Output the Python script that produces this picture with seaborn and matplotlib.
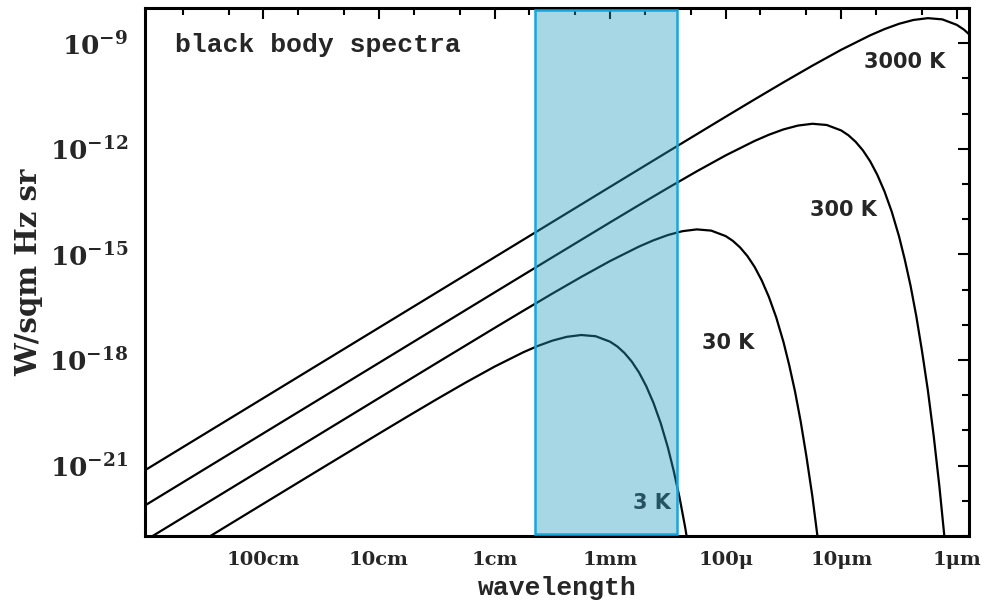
import numpy as np
import pandas as pd
import matplotlib
matplotlib.use("Agg")
import matplotlib.pyplot as plt
import matplotlib.ticker as mticker
import seaborn as sns

# ---- data (wavelength in m, brightness in W/m^2 Hz sr) ----
lam_3K = [3.162, 1.0, 0.3162, 0.1, 0.05623, 0.03162, 0.01778, 0.01, 5.623e-3, 4.217e-3,
          3.162e-3, 2.371e-3, 1.778e-3, 1.334e-3, 1.0e-3, 8.66e-4, 7.50e-4, 6.49e-4,
          5.62e-4, 4.87e-4, 4.22e-4, 3.65e-4, 3.16e-4, 2.82e-4, 2.51e-4, 2.24e-4, 2.00e-4]
B_3K = [8.26e-24, 8.26e-23, 8.22e-22, 8.09e-21, 2.51e-20, 7.67e-20, 2.28e-19, 6.46e-19, 1.66e-18, 2.50e-18,
        3.53e-18, 4.54e-18, 5.11e-18, 4.72e-18, 3.30e-18, 2.41e-18, 1.57e-18, 8.97e-19,
        4.41e-19, 1.81e-19, 6.10e-20, 1.61e-20, 3.24e-21, 7.19e-22, 1.27e-22, 1.75e-23, 1.81e-24]

lam_30K = [31.62, 10.0, 3.162, 0.3162, 0.1, 0.03162, 0.01, 5.623e-3, 3.162e-3, 1.778e-3, 1.0e-3,
           5.623e-4, 4.217e-4, 3.162e-4, 2.371e-4, 1.778e-4, 1.334e-4, 1.0e-4, 8.66e-5, 7.50e-5,
           6.49e-5, 5.62e-5, 4.87e-5, 4.22e-5, 3.65e-5, 3.16e-5, 2.82e-5, 2.51e-5, 2.24e-5,
           2.00e-5, 1.778e-5, 1.585e-5]
B_30K = [8.26e-25, 8.26e-24, 8.26e-23, 8.26e-21, 8.26e-20, 8.22e-19, 8.09e-18, 2.51e-17, 7.67e-17, 2.28e-16, 6.46e-16,
         1.66e-15, 2.50e-15, 3.53e-15, 4.54e-15, 5.11e-15, 4.72e-15, 3.30e-15, 2.41e-15, 1.57e-15,
         8.97e-16, 4.41e-16, 1.81e-16, 6.10e-17, 1.61e-17, 3.24e-18, 7.19e-19, 1.27e-19, 1.75e-20,
         1.81e-21, 1.36e-22, 7.13e-24]

lam_300K = [31.62, 10.0, 1.0, 0.1, 0.03162, 0.01, 3.162e-3, 1.0e-3, 5.623e-4, 3.162e-4, 1.778e-4,
            1.0e-4, 5.623e-5, 4.217e-5, 3.162e-5, 2.371e-5, 1.778e-5, 1.334e-5, 1.0e-5, 8.66e-6,
            7.50e-6, 6.49e-6, 5.62e-6, 4.87e-6, 4.22e-6, 3.65e-6, 3.16e-6, 2.82e-6, 2.51e-6,
            2.24e-6, 2.00e-6, 1.778e-6, 1.585e-6, 1.413e-6, 1.259e-6]
B_300K = [8.26e-24, 8.26e-23, 8.26e-21, 8.26e-19, 8.26e-18, 8.26e-17, 8.22e-16, 8.09e-15, 2.51e-14, 7.67e-14, 2.28e-13,
          6.46e-13, 1.66e-12, 2.50e-12, 3.53e-12, 4.54e-12, 5.11e-12, 4.72e-12, 3.30e-12, 2.41e-12,
          1.57e-12, 8.97e-13, 4.41e-13, 1.81e-13, 6.10e-14, 1.61e-14, 3.24e-15, 7.19e-16, 1.27e-16,
          1.75e-17, 1.81e-18, 1.36e-19, 7.13e-21, 2.51e-22, 5.60e-24]

lam_3000K = [31.62, 10.0, 1.0, 0.1, 0.01, 3.162e-3, 1.0e-3, 3.162e-4, 1.0e-4, 5.623e-5, 3.162e-5,
             1.778e-5, 1.0e-5, 5.623e-6, 4.217e-6, 3.162e-6, 2.371e-6, 1.778e-6, 1.334e-6, 1.0e-6,
             8.66e-7, 7.50e-7, 6.49e-7]
B_3000K = [8.26e-23, 8.26e-22, 8.26e-20, 8.26e-18, 8.26e-16, 8.26e-15, 8.26e-14, 8.22e-13, 8.09e-12, 2.51e-11, 7.67e-11,
           2.28e-10, 6.46e-10, 1.66e-9, 2.50e-9, 3.53e-9, 4.54e-9, 5.11e-9, 4.72e-9, 3.30e-9,
           2.41e-9, 1.57e-9, 8.97e-10]

curve_labels = ["3 K", "30 K", "300 K", "3000 K"]

xtick_values = [1.0, 0.1, 0.01, 1e-3, 1e-4, 1e-5, 1e-6]
xtick_labels = ["100cm", "10cm", "1cm", "1mm", "100\u03bc", "10\u03bcm", "1\u03bcm"]
ytick_values = [1e-9, 1e-12, 1e-15, 1e-18, 1e-21]
ytick_labels = [r"$\mathbf{10^{-9}}$", r"$\mathbf{10^{-12}}$", r"$\mathbf{10^{-15}}$",
                r"$\mathbf{10^{-18}}$", r"$\mathbf{10^{-21}}$"]

band_lo, band_hi = 4.5e-3, 2.66e-4   # shaded band (wavelength, m)

# ---- build long-form table ----
frames = []
for name, lam, B in [("3 K", lam_3K, B_3K), ("30 K", lam_30K, B_30K),
                     ("300 K", lam_300K, B_300K), ("3000 K", lam_3000K, B_3000K)]:
    frames.append(pd.DataFrame({"wavelength": lam, "B": B, "T": name}))
df = pd.concat(frames, ignore_index=True)

sns.set_style("white")
serif = ["DejaVu Serif", "Liberation Serif"]
plt.rcParams["font.family"] = serif
plt.rcParams["mathtext.fontset"] = "custom"
plt.rcParams["mathtext.rm"] = "DejaVu Serif:bold"
plt.rcParams["mathtext.bf"] = "DejaVu Serif:bold"
plt.rcParams["mathtext.it"] = "DejaVu Serif:bold"

fig = plt.figure(figsize=(9.86, 6.07), dpi=100)
ax = fig.add_axes([0.147, 0.117, 0.836, 0.870])

sns.lineplot(data=df, x="wavelength", y="B", hue="T", units="T", estimator=None, sort=False,
             palette={k: "black" for k in curve_labels}, linewidth=1.6, legend=False, ax=ax, zorder=2)

ax.set_xscale("log")
ax.set_yscale("log")
ax.set_xlim(10.6, 7.8e-7)
ax.set_ylim(1e-23, 1e-8)

# shaded band on top of the curves
ax.axvspan(band_lo, band_hi, ymin=0.004, ymax=0.996, facecolor=(0.14, 0.60, 0.74, 0.40),
           edgecolor="#14a6dc", linewidth=1.8, zorder=5)

# ticks
ax.xaxis.set_major_locator(mticker.FixedLocator(xtick_values))
ax.xaxis.set_major_formatter(mticker.FixedFormatter(xtick_labels))
ax.xaxis.set_minor_locator(mticker.LogLocator(base=10, subs=(2.0, 5.0), numticks=20))
ax.xaxis.set_minor_formatter(mticker.NullFormatter())
ax.yaxis.set_major_locator(mticker.FixedLocator(ytick_values))
ax.yaxis.set_major_formatter(mticker.FixedFormatter(ytick_labels))
ax.yaxis.set_minor_locator(mticker.LogLocator(base=10, subs=(1.0,), numticks=30))
ax.yaxis.set_minor_formatter(mticker.NullFormatter())

ax.tick_params(which="both", direction="in", top=True, right=True, color="black", width=1.5)
ax.tick_params(which="major", length=8)
ax.tick_params(which="minor", length=5)
ax.tick_params(axis="x", which="major", pad=11, labelsize=14)
ax.tick_params(axis="y", which="major", pad=12, labelsize=19)
for lab in ax.get_xticklabels():
    lab.set_fontweight("bold")
    lab.set_family(serif)
for sp in ax.spines.values():
    sp.set_linewidth(2.2)
    sp.set_color("black")

ax.set_xlabel("wavelength", family=["Liberation Mono", "DejaVu Sans Mono"], fontweight="bold",
              fontsize=19, labelpad=5)
ax.set_ylabel("W/sqm Hz sr", family=serif, fontweight="bold", fontsize=21, labelpad=4)

mono = ["Liberation Mono", "DejaVu Sans Mono"]
sans = ["DejaVu Sans", "Liberation Sans"]
ax.text(0.036, 0.93, "black body spectra", transform=ax.transAxes, family=mono,
        fontweight="bold", fontsize=19, ha="left", va="center", zorder=3)
ax.text(0.922, 0.898, "3000 K", transform=ax.transAxes, family=sans,
        fontweight="bold", fontsize=15, ha="center", va="center", zorder=3)
ax.text(0.847, 0.617, "300 K", transform=ax.transAxes, family=sans,
        fontweight="bold", fontsize=15, ha="center", va="center", zorder=3)
ax.text(0.708, 0.366, "30 K", transform=ax.transAxes, family=sans,
        fontweight="bold", fontsize=15, ha="center", va="center", zorder=3)
ax.text(0.615, 0.0625, "3 K", transform=ax.transAxes, family=sans,
        fontweight="bold", fontsize=15, ha="center", va="center", zorder=3)

fig.savefig("out.png", dpi=100)
